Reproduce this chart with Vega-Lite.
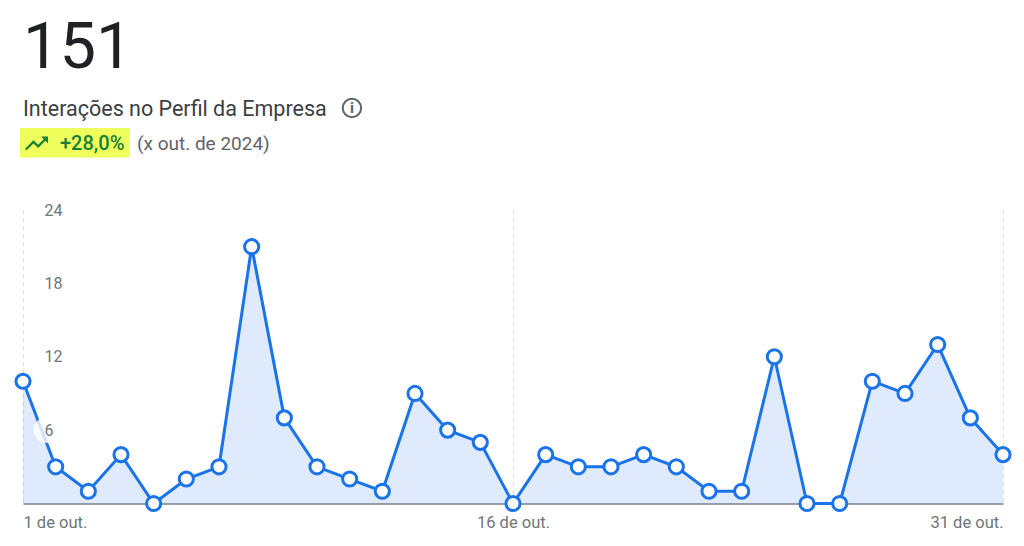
{"$schema":"https://vega.github.io/schema/vega-lite/v6.json","width":980,"height":293.5,"autosize":"none","padding":{"left":23,"top":210,"right":21,"bottom":42.5},"background":"white","config":{"view":{"stroke":null},"font":"Roboto"},"title":{"text":"151","subtitle":"Interações no Perfil da Empresa","anchor":"start","frame":"group","font":"Roboto","fontSize":65,"fontWeight":"normal","color":"#202124","subtitleFont":"Roboto","subtitleFontSize":21.5,"subtitleColor":"#3c4043","subtitlePadding":17,"offset":-27},"datasets":{"serie":[{"dia":1,"interacoes":10},{"dia":2,"interacoes":3},{"dia":3,"interacoes":1},{"dia":4,"interacoes":4},{"dia":5,"interacoes":0},{"dia":6,"interacoes":2},{"dia":7,"interacoes":3},{"dia":8,"interacoes":21},{"dia":9,"interacoes":7},{"dia":10,"interacoes":3},{"dia":11,"interacoes":2},{"dia":12,"interacoes":1},{"dia":13,"interacoes":9},{"dia":14,"interacoes":6},{"dia":15,"interacoes":5},{"dia":16,"interacoes":0},{"dia":17,"interacoes":4},{"dia":18,"interacoes":3},{"dia":19,"interacoes":3},{"dia":20,"interacoes":4},{"dia":21,"interacoes":3},{"dia":22,"interacoes":1},{"dia":23,"interacoes":1},{"dia":24,"interacoes":12},{"dia":25,"interacoes":0},{"dia":26,"interacoes":0},{"dia":27,"interacoes":10},{"dia":28,"interacoes":9},{"dia":29,"interacoes":13},{"dia":30,"interacoes":7},{"dia":31,"interacoes":4}]},"layer":[{"data":{"name":"serie"},"mark":{"type":"area","color":"#1a73e8","opacity":0.14},"encoding":{"x":{"field":"dia","type":"quantitative","title":null,"scale":{"domain":[1,31],"nice":false,"zero":false},"axis":{"values":[1,16,31],"labelExpr":"datum.value + ' de out.'","labelFlush":true,"labelFontSize":16.5,"labelColor":"#70757a","labelPadding":11,"ticks":false,"domainColor":"#9aa0a6","domainWidth":2,"grid":true,"gridColor":"#dadce0","gridDash":[4,4],"gridWidth":1}},"y":{"field":"interacoes","type":"quantitative","title":null,"scale":{"domain":[0,24],"nice":false},"axis":{"values":[6,12,18,24],"orient":"left","labelAlign":"left","labelPadding":-21,"labelFontSize":16,"labelColor":"#70757a","ticks":false,"domain":false,"grid":false,"zindex":1}}}},{"data":{"name":"serie"},"mark":{"type":"line","color":"#1a73e8","strokeWidth":3},"encoding":{"x":{"field":"dia","type":"quantitative"},"y":{"field":"interacoes","type":"quantitative"}}},{"data":{"values":[{"camada":"realce"}]},"mark":{"type":"point","filled":true,"color":"white","opacity":0.8,"size":660},"encoding":{"x":{"datum":1.72,"type":"quantitative"},"y":{"datum":6,"type":"quantitative"}}},{"data":{"name":"serie"},"mark":{"type":"point","filled":true,"fill":"white","stroke":"#1a73e8","strokeWidth":3,"opacity":1,"size":200},"encoding":{"x":{"field":"dia","type":"quantitative"},"y":{"field":"interacoes","type":"quantitative"}}},{"data":{"values":[{"camada":"fundo"}]},"mark":{"type":"rect","color":"#efff5c"},"encoding":{"x":{"datum":0.908,"type":"quantitative"},"x2":{"datum":4.275},"y":{"datum":30.7,"type":"quantitative"},"y2":{"datum":28.3}}},{"data":{"values":[{"camada":"seta"}]},"mark":{"type":"point","filled":true,"color":"#188038","opacity":1,"size":762,"shape":"M.333 -.5L.524 -.309L.118 .098L-.216 -.236L-.833 .383L-.716 .5L-.216 0L.118 .333L.643 -.191L.833 0L.833 -.5Z"},"encoding":{"x":{"datum":1.413,"type":"quantitative"},"y":{"datum":29.44,"type":"quantitative"}}},{"data":{"values":[{"t":"+28,0%"}]},"mark":{"type":"text","align":"left","baseline":"alphabetic","fontSize":20,"fontWeight":500,"color":"#188038"},"encoding":{"x":{"datum":2.133,"type":"quantitative"},"y":{"datum":28.9,"type":"quantitative"},"text":{"field":"t"}}},{"data":{"values":[{"t":"(x out. de 2024)"}]},"mark":{"type":"text","align":"left","baseline":"alphabetic","fontSize":19,"color":"#5f6368"},"encoding":{"x":{"datum":4.49,"type":"quantitative"},"y":{"datum":28.9,"type":"quantitative"},"text":{"field":"t"}}},{"data":{"values":[{"camada":"info"}]},"mark":{"type":"point","filled":false,"stroke":"#5f6368","strokeWidth":2,"opacity":1,"size":340},"encoding":{"x":{"datum":11.07,"type":"quantitative"},"y":{"datum":32.34,"type":"quantitative"}}},{"data":{"values":[{"t":"i"}]},"mark":{"type":"text","align":"center","baseline":"middle","fontSize":15,"fontWeight":"bold","color":"#5f6368"},"encoding":{"x":{"datum":11.07,"type":"quantitative"},"y":{"datum":32.34,"type":"quantitative"},"text":{"field":"t"}}}]}
